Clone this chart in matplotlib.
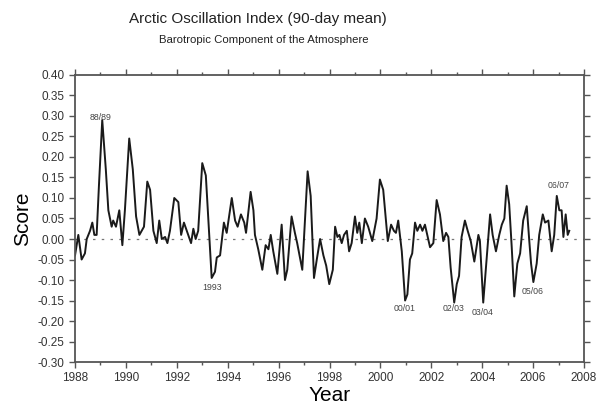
import matplotlib
matplotlib.use("Agg")
import matplotlib.pyplot as plt
from matplotlib.ticker import MultipleLocator, FormatStrFormatter

plt.rcParams['font.family'] = ['Liberation Sans', 'DejaVu Sans']

# 90-day mean AO index (decimal year, score)
years = [1988.00, 1988.13, 1988.26, 1988.39, 1988.46, 1988.59, 1988.68, 1988.76, 1988.85, 1988.94,
         1989.07, 1989.21, 1989.31, 1989.44, 1989.50, 1989.61, 1989.74, 1989.86, 1989.96, 1990.13,
         1990.27, 1990.40, 1990.53, 1990.62, 1990.71, 1990.84, 1990.95, 1991.08, 1991.21, 1991.31,
         1991.41, 1991.54, 1991.63, 1991.73, 1991.90, 1992.06, 1992.17, 1992.28, 1992.45, 1992.56,
         1992.65, 1992.74, 1992.84, 1993.00, 1993.14, 1993.37, 1993.50, 1993.57, 1993.70, 1993.85,
         1993.96, 1994.02, 1994.16, 1994.29, 1994.39, 1994.52, 1994.65, 1994.72, 1994.90, 1995.01,
         1995.07, 1995.20, 1995.36, 1995.49, 1995.60, 1995.69, 1995.79, 1995.95, 1996.12, 1996.25,
         1996.34, 1996.51, 1996.64, 1996.73, 1996.93, 1997.14, 1997.26, 1997.39, 1997.50, 1997.63,
         1997.76, 1997.87, 1997.99, 1998.13, 1998.22, 1998.31, 1998.39, 1998.48, 1998.57, 1998.68,
         1998.77, 1998.87, 1999.00, 1999.09, 1999.17, 1999.27, 1999.39, 1999.52, 1999.68, 1999.85,
         1999.98, 2000.11, 2000.29, 2000.42, 2000.53, 2000.61, 2000.70, 2000.84, 2000.97, 2001.06,
         2001.16, 2001.25, 2001.36, 2001.45, 2001.56, 2001.65, 2001.75, 2001.84, 2001.95, 2002.08,
         2002.21, 2002.34, 2002.47, 2002.58, 2002.67, 2002.76, 2002.90, 2003.00, 2003.09, 2003.19,
         2003.32, 2003.43, 2003.55, 2003.69, 2003.85, 2003.91, 2004.04, 2004.18, 2004.31, 2004.41,
         2004.54, 2004.67, 2004.77, 2004.87, 2004.96, 2005.06, 2005.16, 2005.26, 2005.38, 2005.49,
         2005.61, 2005.75, 2005.85, 2005.92, 2006.01, 2006.14, 2006.24, 2006.38, 2006.47, 2006.60,
         2006.73, 2006.83, 2006.93, 2007.03, 2007.12, 2007.19, 2007.28, 2007.36, 2007.42]
scores = [-0.040, 0.010, -0.050, -0.035, 0.000, 0.020, 0.040, 0.010, 0.010, 0.130,
          0.290, 0.170, 0.070, 0.030, 0.045, 0.030, 0.070, -0.015, 0.070, 0.245,
          0.170, 0.055, 0.010, 0.020, 0.030, 0.140, 0.120, 0.020, -0.010, 0.045,
          0.000, 0.005, -0.010, 0.020, 0.100, 0.090, 0.010, 0.040, 0.010, -0.010,
          0.025, 0.000, 0.020, 0.185, 0.155, -0.095, -0.080, -0.045, -0.040, 0.040,
          0.015, 0.040, 0.100, 0.045, 0.030, 0.060, 0.040, 0.015, 0.115, 0.070,
          0.010, -0.025, -0.075, -0.015, -0.025, 0.010, -0.030, -0.085, 0.035, -0.100,
          -0.075, 0.055, 0.015, -0.010, -0.075, 0.165, 0.105, -0.095, -0.050, 0.000,
          -0.040, -0.065, -0.110, -0.075, 0.030, 0.005, 0.010, -0.010, 0.010, 0.020,
          -0.030, -0.010, 0.055, 0.015, 0.040, -0.010, 0.050, 0.030, -0.005, 0.050,
          0.145, 0.120, -0.005, 0.035, 0.020, 0.015, 0.045, -0.030, -0.150, -0.135,
          -0.050, -0.035, 0.040, 0.020, 0.035, 0.020, 0.035, 0.010, -0.020, -0.010,
          0.095, 0.060, -0.005, 0.015, 0.005, -0.070, -0.155, -0.110, -0.090, 0.005,
          0.045, 0.020, -0.005, -0.055, 0.010, -0.005, -0.155, -0.045, 0.060, 0.010,
          -0.030, 0.010, 0.035, 0.050, 0.130, 0.085, -0.020, -0.140, -0.060, -0.035,
          0.045, 0.080, -0.005, -0.060, -0.105, -0.060, 0.010, 0.060, 0.040, 0.045,
          -0.030, 0.010, 0.105, 0.070, 0.070, 0.005, 0.060, 0.010, 0.020]

# winter labels
label_text = ['88/89', '1993', '00/01', '02/03', '03/04', '05/06', '06/07']
label_year = [1989.01, 1993.38, 2000.97, 2002.89, 2004.01, 2006.00, 2007.02]
label_score = [0.297, -0.118, -0.169, -0.169, -0.180, -0.129, 0.130]

fig = plt.figure(figsize=(6.03, 4.05), dpi=100)
ax = fig.add_axes([0.1244, 0.106, 0.8441, 0.709])

ax.axhline(0, color='#777777', lw=0.9, linestyle=(0, (2, 5)))
ax.plot(years, scores, color='#1a1a1a', lw=1.4, solid_joinstyle='round')

for t, x, y in zip(label_text, label_year, label_score):
    ax.text(x, y, t, fontsize=6.3, color='#444444', ha='center', va='center')

ax.set_xlim(1988, 2008)
ax.set_ylim(-0.30, 0.40)
ax.xaxis.set_major_locator(MultipleLocator(2))
ax.xaxis.set_minor_locator(MultipleLocator(1))
ax.yaxis.set_major_locator(MultipleLocator(0.05))
ax.yaxis.set_major_formatter(FormatStrFormatter('%.2f'))

ax.tick_params(which='both', direction='out', top=True, right=True,
               color='#555555', labelsize=8.5, labelcolor='#333333')
ax.tick_params(which='major', length=4, width=1)
ax.tick_params(which='minor', length=2.5, width=1)
for s in ax.spines.values():
    s.set_color('#555555')
    s.set_linewidth(1.3)

ax.set_xlabel('Year', fontsize=15, labelpad=1)
ax.set_ylabel('Score', fontsize=15, labelpad=4)

fig.text(258 / 603, 1 - 19 / 405, 'Arctic Oscillation Index (90-day mean)',
         fontsize=11, ha='center', va='center', color='#222222')
fig.text(264 / 603, 1 - 40 / 405, 'Barotropic Component of the Atmosphere',
         fontsize=8.2, ha='center', va='center', color='#222222')

fig.savefig('out.png', dpi=100)
